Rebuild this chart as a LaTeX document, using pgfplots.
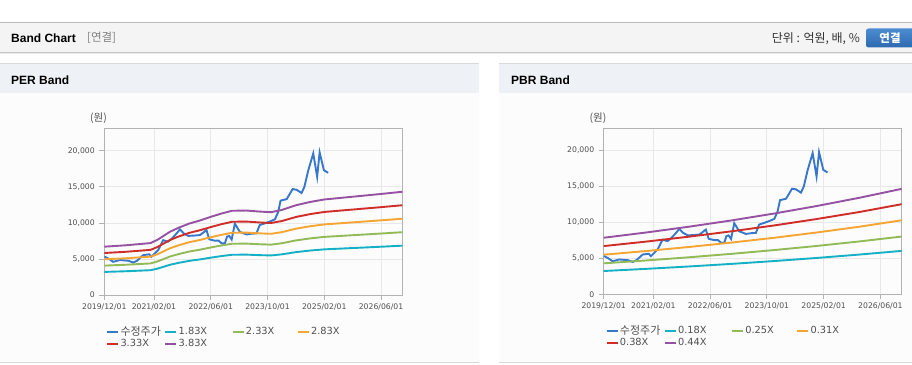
\documentclass[border=0pt]{standalone}
\usepackage{pgfplots}
\pgfplotsset{compat=1.18}
\usepackage{pgfplotstable}
\usepackage{fontspec}
\setmainfont{Liberation Sans}
\newfontfamily\kr{Noto Sans CJK KR}
\newfontfamily\dv{DejaVu Sans}
\definecolor{cprice}{RGB}{55,120,205}
\definecolor{ccyan}{RGB}{20,176,198}
\definecolor{cgreen}{RGB}{146,187,88}
\definecolor{corange}{RGB}{246,165,50}
\definecolor{cred}{RGB}{208,45,40}
\definecolor{cpurple}{RGB}{150,82,162}
\definecolor{gridc}{RGB}{232,232,232}
\definecolor{axisc}{RGB}{178,178,178}
\definecolor{tickc}{RGB}{80,80,80}
\definecolor{headbg}{RGB}{244,244,244}
\definecolor{titlebg}{RGB}{238,242,247}
\definecolor{btntop}{RGB}{78,140,210}
\definecolor{btnbot}{RGB}{45,105,175}

\pgfplotstableread{
m b1 b2 b3 b4 b5
0 3203 4078 4953 5828 6703
6 3294 4194 5094 5994 6894
13 3440 4380 5320 6260 7200
15 3660 4660 5660 6660 7660
18.5 4191 5336 6481 7626 8771
21 4465 5685 6905 8125 9345
24 4740 6035 7330 8625 9920
27 4941 6291 7641 8991 10341
30 5179 6594 8009 9424 10839
33 5399 6874 8349 9824 11299
36 5582 7107 8632 10157 11682
40 5600 7130 8660 10190 11720
44 5527 7037 8547 10057 11567
47 5490 6990 8490 9990 11490
50 5636 7176 8716 10256 11796
54 5948 7573 9198 10823 12448
58 6167 7852 9537 11222 12907
62 6332 8062 9792 11522 13252
66 6423 8178 9933 11688 13443
70 6515 8295 10075 11855 13635
74 6606 8411 10216 12021 13826
78 6698 8528 10358 12188 14018
84 6844 8714 10584 12454 14324
}\perband

\pgfplotstableread{
m b1 b2 b3 b4 b5
0 3240 4310 5510 6710 7870
12 3542 4711 6023 7335 8603
24 3871 5150 6583 8017 9403
36 4231 5629 7196 8763 10278
48 4625 6153 7866 9579 11235
60 5056 6726 8598 10471 12281
72 5527 7352 9399 11446 13425
84 6041 8036 10300 12540 14674
}\pbrband

\pgfplotstableread{
m p
0 5350
1.5 4950
2.5 4600
4.4 4850
6.8 4750
8.2 4500
9.2 4750
11.0 5540
12.7 5640
13.3 5300
15.2 6240
16.6 7600
18.0 7400
19.0 7800
20.4 8550
21.3 9100
22.4 8550
23.7 8200
25.5 8250
27.0 8320
28.8 9010
29.6 7720
31.2 7530
32.2 7550
33.1 7160
34.0 7200
34.6 8100
35.2 8200
35.9 7700
36.8 9900
38.2 8770
40.1 8400
41.5 8500
42.9 8550
43.8 9700
45.3 9950
46.7 10200
48.1 10500
49.0 11500
49.7 13100
51.4 13300
53.1 14700
54.2 14600
55.6 14150
56.4 15000
57.5 17300
58.9 19640
60.0 16400
60.7 19780
61.9 17320
63.1 16950
}\price

\pgfplotsset{
  bandaxis/.style={
    anchor=south west, scale only axis,
    width=298pt, height=166.5pt,
    xmin=0, xmax=84, ymin=0, ymax=23100,
    scaled y ticks=false,
    xtick={0,14,30,46,62,78},
    xticklabels={2019/12/01,2021/02/01,2022/06/01,2023/10/01,2025/02/01,2026/06/01},
    ytick={0,5000,10000,15000,20000},
    yticklabels={0,{5,000},{10,000},{15,000},{20,000}},
    grid=major, major grid style={draw=gridc, line width=0.8pt},
    axis line style={draw=axisc, line width=1pt},
    tick style={draw=axisc, line width=0.8pt},
    tick align=outside, major tick length=5pt,
    xtick pos=bottom, ytick pos=left,
    tick label style={font=\dv\fontsize{7.7}{9}\selectfont, text=tickc},
    yticklabel style={xshift=-1pt},
    legend style={at={(axis description cs:0,0)}, anchor=north west,
      xshift=1.5pt, yshift=-30pt, draw=none, fill=none, inner sep=0pt,
      font=\dv\fontsize{9.8}{12}\selectfont, text=tickc,
      legend columns=4,
      nodes={inner sep=1.2pt},
      /tikz/column 2/.style={column sep=2pt},
      /tikz/column 4/.style={column sep=23pt},
      /tikz/column 6/.style={column sep=21pt}},
    legend cell align=left,
    legend image code/.code={\draw[##1, line width=2.3pt] (0pt,0pt) -- (11pt,0pt);},
    every axis plot/.append style={line width=1.9pt, no marks},
  }
}

\begin{document}
\begin{tikzpicture}
\begin{scope}[x=1pt,y=1pt]
\useasboundingbox (0,0) rectangle (912,364);
\fill[white] (0,0) rectangle (912,364);
% header
\fill[headbg] (0,311.5) rectangle (912,341.5);
\draw[gray!55, line width=1pt] (0,341.5) -- (912,341.5);
\draw[gray!45, line width=1pt] (0,311.3) -- (912,311.3);
\draw[gray!15, line width=1pt] (0,310.3) -- (912,310.3);
\node[anchor=west, inner sep=0pt, font=\fontsize{12}{14}\selectfont\bfseries] at (11,326) {Band Chart};
\node[anchor=west, inner sep=0pt, font=\fontsize{11.5}{13}\selectfont\kr, text=gray] at (87,326) {[연결]};
\node[anchor=east, inner sep=0pt, font=\fontsize{12}{14}\selectfont\kr, text=black!80] at (860,325.5) {단위 : 억원, 배, \%};
\shade[top color=btntop, bottom color=btnbot, rounded corners=2.5pt] (866,316.5) rectangle (916,335.5);
\node[inner sep=0pt, font=\fontsize{11.5}{13}\selectfont\kr\bfseries, text=white] at (890,326) {연결};
% panels
\foreach \xa/\xb in {0/478.7, 499.3/912}{
  \fill[black!1] (\xa,2.3) rectangle (\xb,271.3);
  \fill[titlebg] (\xa,271.3) rectangle (\xb,300);
  \draw[black!15, line width=1pt] (\xa,300) -- (\xb,300);
  \draw[black!15, line width=1pt] (\xa,2) -- (\xb,2);
}
\node[anchor=west, inner sep=0pt, font=\fontsize{12}{14}\selectfont\bfseries] at (11,284) {PER Band};
\node[anchor=west, inner sep=0pt, font=\fontsize{12}{14}\selectfont\bfseries] at (511,284) {PBR Band};
\node[inner sep=0pt, font=\fontsize{10.5}{12}\selectfont\kr, text=tickc] at (98.5,246) {(원)};
\node[inner sep=0pt, font=\fontsize{10.5}{12}\selectfont\kr, text=tickc] at (598,246) {(원)};
\end{scope}

\begin{axis}[bandaxis, at={(104.3pt,69pt)}]
\addplot[cprice] table[x=m,y=p] {\price};
\addplot[ccyan] table[x=m,y=b1] {\perband};
\addplot[cgreen] table[x=m,y=b2] {\perband};
\addplot[corange] table[x=m,y=b3] {\perband};
\addplot[cred] table[x=m,y=b4] {\perband};
\addplot[cpurple] table[x=m,y=b5] {\perband};
\legend{{\kr\fontsize{11}{12}\selectfont 수정주가},1.83X,2.33X,2.83X,3.33X,3.83X}
\end{axis}

\begin{axis}[bandaxis, at={(603.7pt,69.7pt)}, height=166pt]
\addplot[cprice] table[x=m,y=p] {\price};
\addplot[ccyan] table[x=m,y=b1] {\pbrband};
\addplot[cgreen] table[x=m,y=b2] {\pbrband};
\addplot[corange] table[x=m,y=b3] {\pbrband};
\addplot[cred] table[x=m,y=b4] {\pbrband};
\addplot[cpurple] table[x=m,y=b5] {\pbrband};
\legend{{\kr\fontsize{11}{12}\selectfont 수정주가},0.18X,0.25X,0.31X,0.38X,0.44X}
\end{axis}
\end{tikzpicture}
\end{document}
